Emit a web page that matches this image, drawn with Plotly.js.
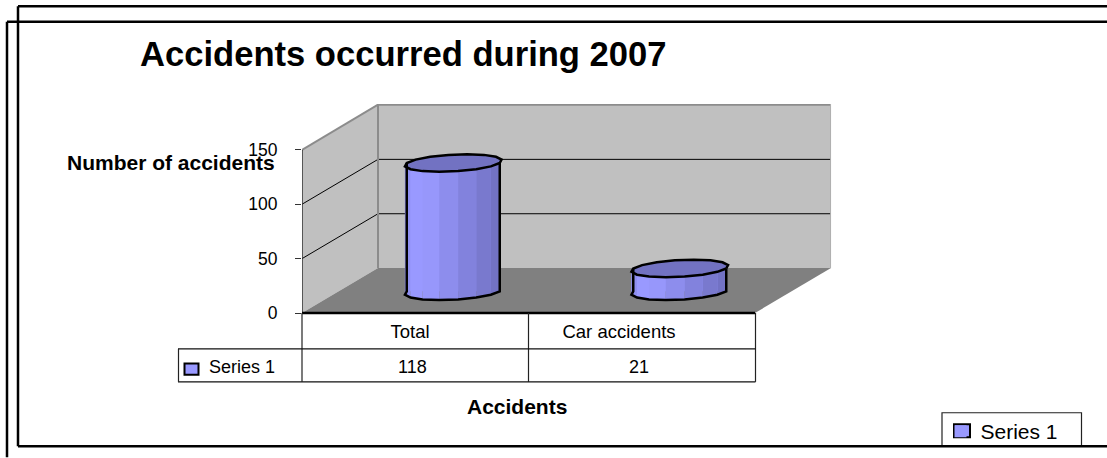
<!DOCTYPE html>
<html>
<head>
<meta charset="utf-8">
<script src="https://cdn.plot.ly/plotly-3.0.1.min.js"></script>
<style>html,body{margin:0;padding:0;background:#fff}#chart{width:1107px;height:458px}</style>
</head>
<body>
<div id="chart"></div>
<script>
const categories = ["Total", "Car accidents"];
const seriesName = "Series 1";
const seriesValues = [118, 21];
const yTicks = [0, 50, 100, 150];
const chartTitle = "Accidents occurred during 2007";
const xTitle = "Accidents";
const yTitle = "Number of accidents";

// Plot frame in pixels (front floor edge to back wall)
const W = 1107, H = 458;
const L = 302, R = 832, T = 104, B = 313.5;
const pxX = 226.5, pxY = 163.5 / 150;
const DX = 76 / pxX, DY = 45 / pxY;           // 3D depth in axis units
const x0 = -0.5, x1 = 1.5, yMax = 150;
const xMaxAxis = x1 + (R - 755) / pxX, yMaxAxis = (B - T) / pxY;
const px = v => (v - L) / (R - L);
const py = v => (B - v) / (B - T);
const axisX = v => x0 + (v - L) / pxX;

// Pixel centres of the table's text, which sit off the cell centres in the reference
const catLabelCentres = [410, 619];
const valLabelCentres = [412, 639];

const FONT = "Liberation Sans, Arial, sans-serif";
const shapes = [];
function poly(pts, fill, line) {
  const path = pts.map((p, i) => (i ? "L" : "M") + p[0] + "," + p[1]).join(" ") + " Z";
  shapes.push({type: "path", xref: "x", yref: "y", path, fillcolor: fill, line: line || {width: 0}, layer: "below"});
}
function seg(xa, ya, xb, yb, color, width) {
  shapes.push({type: "line", xref: "paper", yref: "paper",
    x0: px(xa), y0: py(ya), x1: px(xb), y1: py(yb), line: {color, width}, layer: "above"});
}
function under(xa, ya, xb, yb, color, width) {
  shapes.push({type: "line", xref: "x", yref: "y", x0: xa, y0: ya, x1: xb, y1: yb, line: {color, width}, layer: "below"});
}

// walls and floor
poly([[x0 + DX, DY], [x1 + DX, DY], [x1 + DX, yMaxAxis], [x0 + DX, yMaxAxis]], "#c0c0c0");
poly([[x0, 0], [x0 + DX, DY], [x0 + DX, yMaxAxis], [x0, yMax]], "#c0c0c0");
poly([[x0, 0], [x1, 0], [x1 + DX, DY], [x0 + DX, DY]], "#808080");
yTicks.filter(t => t > 0 && t < yMax).forEach(t => {
  under(x0, t, x0 + DX, t + DY, "#000", 1);
  under(x0 + DX, t + DY, x1 + DX, t + DY, "#000", 1);
});
under(x0 + DX, DY, x0 + DX, yMaxAxis, "#8c8c8c", 2);
under(x0 + DX, yMaxAxis - 0.6, x1 + DX, yMaxAxis - 0.6, "#8c8c8c", 2);
under(x0, yMax, x0 + DX, yMaxAxis - 0.6, "#8c8c8c", 2);
under(x1 + DX - 0.002, DY, x1 + DX - 0.002, yMaxAxis, "#b0b0b0", 1);
under(x0, 0, x0, yMax, "#333", 1.5);

// data table under the plot
const C = "#000";
seg(302, 313.5, 755, 313.5, C, 2.5);
seg(302, 313.5, 302, 382.5, "#222", 1.2);
seg(528.5, 313.5, 528.5, 382.5, "#222", 1.2);
seg(755.5, 313.5, 755.5, 382.5, "#222", 1.2);
seg(178, 349.5, 755.5, 349.5, "#111", 1.2);
seg(178, 382.5, 755.5, 382.5, "#111", 1.2);
seg(178.5, 349.5, 178.5, 382.5, "#222", 1.2);
shapes.push({type: "rect", xref: "paper", yref: "paper", x0: px(184.5), x1: px(198.5), y0: py(364), y1: py(375.5),
  fillcolor: "#9999ff", line: {color: "#000", width: 2}, layer: "above"});

// outer frames
seg(18, 6, W, 6, C, 2.5);
seg(7, 21.5, W, 21.5, C, 2.5);
seg(7, 21.5, 7, H, C, 2.5);
seg(18, 6, 18, 447, C, 2.5);

// legend box and key frame (the legend entry itself is the library's)
shapes.push({type: "rect", xref: "paper", yref: "paper", x0: px(942), x1: px(1081.5), y0: py(413.5), y1: py(447),
  fillcolor: "#fff", line: {color: "#222", width: 1.2}, layer: "above"});
shapes.push({type: "rect", xref: "paper", yref: "paper", x0: px(954), x1: px(970), y0: py(425), y1: py(438),
  fillcolor: "#9999ff", line: {color: "#000", width: 2}, layer: "above"});
seg(18, 447, W, 447, C, 2.5);

// Cylinders
const N = 16;
const ux = 46.5 / pxX, vx = 14 / pxX, vy = 8.8 / pxY;
const cylX = i => i + DX / 2, cylBase = DY / 2 - 0.7;
function ring(cx, cy, th) { return [cx + ux * Math.cos(th) + vx * Math.sin(th), cy + vy * Math.sin(th)]; }
function shade(f) {
  // light left → dark right
  const stops = [[0, [140, 140, 236]], [0.12, [153, 153, 255]], [0.3, [150, 150, 250]], [1, [110, 110, 190]]];
  for (let k = 1; k < stops.length; k++) {
    if (f <= stops[k][0]) {
      const t = (f - stops[k - 1][0]) / (stops[k][0] - stops[k - 1][0]);
      const c = stops[k - 1][1].map((a, j) => Math.round(a + (stops[k][1][j] - a) * t));
      return "rgb(" + c.join(",") + ")";
    }
  }
  return "rgb(110,110,190)";
}
const traces = [{
  type: "bar", name: seriesName, x: categories.map((_, i) => cylX(i)), y: seriesValues,
  base: seriesValues.map(() => cylBase), width: 2 * ux,
  marker: {color: "#9999ff", line: {width: 0}},
  showlegend: true, hoverinfo: "y"
}];
seriesValues.forEach((v, i) => {
  const cx = cylX(i), yb = cylBase, yt = cylBase + v;
  const step = 2 * Math.PI / N;
  const front = [];
  for (let k = 0; k <= N / 2; k++) front.push(Math.PI + k * step);
  const xmin = cx - Math.hypot(ux, vx), xw = 2 * Math.hypot(ux, vx);
  for (let k = 0; k < front.length - 1; k++) {
    const a = ring(cx, yb, front[k]), b = ring(cx, yb, front[k + 1]);
    const c = ring(cx, yt, front[k + 1]), d = ring(cx, yt, front[k]);
    const mid = ((a[0] + b[0]) / 2 - xmin) / xw;
    traces.push({type: "scatter", mode: "lines", x: [a[0], b[0], c[0], d[0], a[0]], y: [a[1], b[1], c[1], d[1], a[1]],
      fill: "toself", fillcolor: shade(mid), line: {width: 0}, showlegend: false, hoverinfo: "skip"});
  }
  const top = [];
  for (let k = 0; k <= N; k++) top.push(ring(cx, yt, step * k));
  traces.push({type: "scatter", mode: "lines", x: top.map(p => p[0]), y: top.map(p => p[1]), fill: "toself",
    fillcolor: "#7272c2", line: {color: "#000", width: 2.5}, showlegend: false, hoverinfo: "skip"});
  const sil = front.map(t => ring(cx, yb, t));
  const sx = [ring(cx, yt, Math.PI)[0]].concat(sil.map(p => p[0]), [ring(cx, yt, 0)[0]]);
  const sy = [ring(cx, yt, Math.PI)[1]].concat(sil.map(p => p[1]), [ring(cx, yt, 0)[1]]);
  traces.push({type: "scatter", mode: "lines", x: sx, y: sy, line: {color: "#000", width: 2.5}, showlegend: false, hoverinfo: "skip"});
});

const yCatRow = 368;
const annotations = [
  {text: "<b>" + yTitle + "</b>", xref: "paper", yref: "paper", x: px(65), y: py(163), xanchor: "left", yanchor: "middle",
   showarrow: false, font: {family: FONT, size: 21, color: "#000"}},
  {text: "<b>" + xTitle + "</b>", xref: "paper", yref: "paper", x: px(517), y: py(407), xanchor: "center", yanchor: "middle",
   showarrow: false, font: {family: FONT, size: 21, color: "#000"}},
  {text: seriesName, xref: "paper", yref: "paper", x: px(207), y: py(yCatRow), xanchor: "left", yanchor: "middle",
   showarrow: false, font: {family: FONT, size: 18, color: "#000"}}
].concat(seriesValues.map((v, i) => ({
  text: String(v), xref: "paper", yref: "paper", x: px(valLabelCentres[i]), y: py(yCatRow), xanchor: "center", yanchor: "middle",
  showarrow: false, font: {family: FONT, size: 18, color: "#000"}
})));

const layout = {
  width: W, height: H, autosize: false,
  margin: {l: L, r: W - R, t: T, b: H - B, pad: 0},
  paper_bgcolor: "#fff", plot_bgcolor: "rgba(0,0,0,0)",
  title: {text: "<b>" + chartTitle + "</b>", x: 140 / W, xanchor: "left", xref: "container", y: 1 - 54 / H, yanchor: "middle",
          font: {family: FONT, size: 34.6, color: "#000"}},
  xaxis: {range: [x0, xMaxAxis], tickmode: "array", tickvals: catLabelCentres.map(axisX), ticktext: categories,
          showgrid: false, zeroline: false, showline: false, ticks: "", ticklabelstandoff: 5,
          tickfont: {family: FONT, size: 18.5, color: "#000"}, fixedrange: true},
  yaxis: {range: [0, yMaxAxis], tickmode: "array", tickvals: yTicks, showgrid: false, zeroline: false, showline: false,
          ticks: "outside", ticklen: 6, tickwidth: 1, tickcolor: "#333", ticklabelstandoff: 14,
          tickfont: {family: FONT, size: 17.5, color: "#000"}, fixedrange: true},
  showlegend: true,
  legend: {xref: "container", yref: "container", x: 940.5 / W, y: 1 - 431.5 / H, xanchor: "left", yanchor: "middle",
           bgcolor: "rgba(0,0,0,0)", borderwidth: 0,
           font: {family: FONT, size: 21, color: "#000"}, itemclick: false, itemdoubleclick: false},
  shapes, annotations, hovermode: false
};
Plotly.newPlot("chart", traces, layout, {displayModeBar: false, staticPlot: true});
</script>
</body>
</html>
